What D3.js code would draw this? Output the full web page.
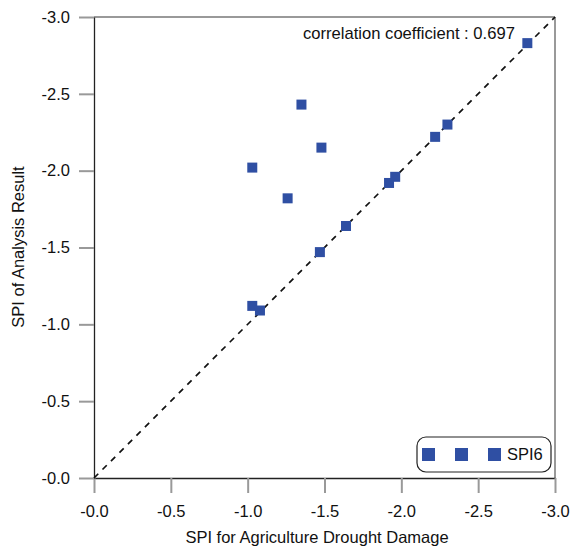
<!DOCTYPE html>
<html>
<head>
<meta charset="utf-8">
<script src="https://cdn.jsdelivr.net/npm/d3@7"></script>
<style>
  body { margin: 0; background: #fff; }
  svg text { font-family: "Liberation Sans", Arial, sans-serif; fill: #111; }
</style>
</head>
<body>
<svg id="chart"></svg>
<script>
// SPI values
const agriSPI     = [-2.82, -1.35, -1.48, -1.03, -1.26, -2.30, -2.22, -1.96, -1.92, -1.64, -1.47, -1.03, -1.08];
const analysisSPI = [-2.83, -2.43, -2.15, -2.02, -1.82, -2.30, -2.22, -1.96, -1.92, -1.64, -1.47, -1.12, -1.09];
const tickValues  = [0, -0.5, -1.0, -1.5, -2.0, -2.5, -3.0];
const tickLabels  = ['-0.0', '-0.5', '-1.0', '-1.5', '-2.0', '-2.5', '-3.0'];
const legendMarks = ['a', 'b', 'c'];
const legendLabel = 'SPI6';
const corrText    = 'correlation coefficient : 0.697';

function draw(){
    const width = 575;
    const height = 551;
    const blue = '#2f4fa3';
    const grey = '#999';

    const svg = d3.select('#chart')
        .attr('width', width)
        .attr('height', height);

    const xScale = d3.scaleLinear()
        .domain([0, -3])
        .range([94, 555]);

    const yScale = d3.scaleLinear()
        .domain([0, -3])
        .range([478, 17]);

    const fmt = d => tickLabels[tickValues.indexOf(d)];

    // frame: top and right sides
    svg.append('line')
        .attr('x1', xScale(0)).attr('x2', xScale(-3))
        .attr('y1', yScale(-3)).attr('y2', yScale(-3))
        .attr('stroke', grey).attr('stroke-width', 2);
    svg.append('line')
        .attr('x1', xScale(-3)).attr('x2', xScale(-3))
        .attr('y1', yScale(-3)).attr('y2', yScale(0))
        .attr('stroke', '#777').attr('stroke-width', 1.5);

    const xAxis = d3.axisBottom(xScale)
        .tickValues(tickValues)
        .tickFormat(fmt)
        .tickSize(15)
        .tickSizeOuter(0)
        .tickPadding(12);
    const gx = svg.append('g')
        .attr('transform', 'translate(0,' + yScale(0) + ')')
        .call(xAxis);

    const yAxis = d3.axisLeft(yScale)
        .tickValues(tickValues)
        .tickFormat(fmt)
        .tickSize(15)
        .tickSizeOuter(0)
        .tickPadding(9);
    const gy = svg.append('g')
        .attr('transform', 'translate(' + xScale(0) + ',0)')
        .call(yAxis);

    [gx, gy].forEach(g => {
        g.select('.domain').attr('stroke', '#222').attr('stroke-width', 1.3);
        g.selectAll('.tick line').attr('stroke', grey).attr('stroke-width', 2);
        g.selectAll('.tick text')
            .attr('font-size', 16.5)
            .attr('fill', '#111')
            .attr('font-family', '"Liberation Sans", Arial, sans-serif');
    });

    // 1:1 line
    svg.append('line')
        .attr('x1', xScale(0)).attr('y1', yScale(0))
        .attr('x2', xScale(-3)).attr('y2', yScale(-3))
        .attr('stroke', '#111')
        .attr('stroke-width', 1.7)
        .attr('stroke-dasharray', '6,6');

    // points
    const pts = agriSPI.map((d, i) => [d, analysisSPI[i]]);
    const s = 10;
    svg.selectAll('rect.pt')
        .data(pts)
        .enter()
        .append('rect')
        .attr('class', 'pt')
        .attr('x', d => xScale(d[0]) - s / 2)
        .attr('y', d => yScale(d[1]) - s / 2)
        .attr('width', s)
        .attr('height', s)
        .attr('fill', blue);

    svg.append('text')
        .attr('x', 303)
        .attr('y', 39)
        .attr('font-size', 16.6)
        .text(corrText);

    // axis titles
    svg.append('text')
        .attr('x', 317)
        .attr('y', 543)
        .attr('text-anchor', 'middle')
        .attr('font-size', 16.5)
        .text('SPI for Agriculture Drought Damage');

    svg.append('text')
        .attr('transform', 'translate(24,247) rotate(-90)')
        .attr('text-anchor', 'middle')
        .attr('font-size', 16.5)
        .text('SPI of Analysis Result');

    // legend
    const lg = svg.append('g').attr('transform', 'translate(417,437)');
    lg.append('rect')
        .attr('width', 134).attr('height', 35)
        .attr('rx', 9).attr('ry', 9)
        .attr('fill', '#fff')
        .attr('stroke', '#222').attr('stroke-width', 1.2);
    lg.selectAll('rect.mk')
        .data(legendMarks)
        .enter()
        .append('rect')
        .attr('class', 'mk')
        .attr('x', (d, i) => 5 + i * 33)
        .attr('y', 11)
        .attr('width', 13)
        .attr('height', 13)
        .attr('fill', blue);
    lg.append('text')
        .attr('x', 90)
        .attr('y', 23)
        .attr('font-size', 16.5)
        .text(legendLabel);
}

draw();
</script>
</body>
</html>
